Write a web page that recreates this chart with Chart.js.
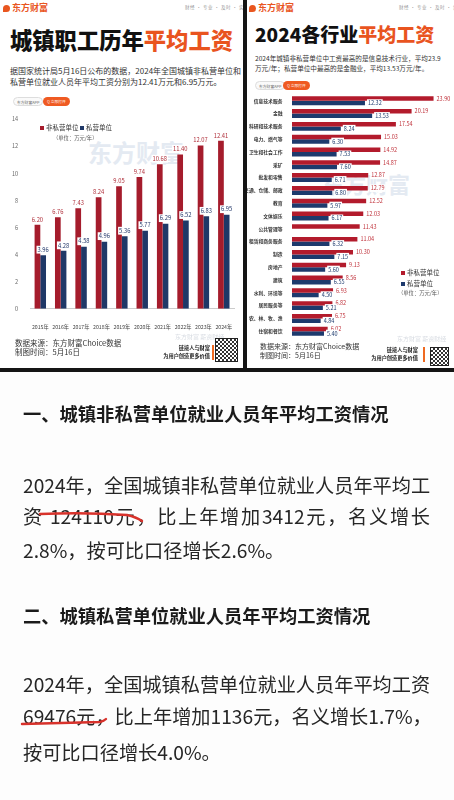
<!DOCTYPE html>
<html lang="zh-CN">
<head>
<meta charset="UTF-8" />
<title>城镇职工平均工资</title>
<script src="https://cdn.jsdelivr.net/npm/chart.js"></script>
<style>
  * { box-sizing: border-box; }
  body { margin: 0; width: 454px; height: 800px; background: #151515; position: relative; overflow: hidden;
         font-family: "Noto Sans CJK SC", "Noto Sans", sans-serif; color: #222; }
  .panel { position: absolute; top: 0; height: 368px; background: #fff; overflow: hidden; }
  .logo { position: absolute; color: #e9561f; font-weight: 700; font-size: 9px; line-height: 1; }
  .logo i { font-style: normal; display: inline-block; width: 7px; height: 7px; border-radius: 50% 50% 50% 0; background: #e9561f; margin-right: 2px; vertical-align: -1px; }
  .tagline { position: absolute; color: #999; font-size: 4.5px; line-height: 1; letter-spacing: 0.5px; white-space: nowrap; }
  .title { position: absolute; font-weight: 900; line-height: 1; color: #111; white-space: nowrap; }
  .title span { color: #e9541f; }
  .sub { position: absolute; color: #333; white-space: nowrap; }
  .pill { position: absolute; height: 9px; line-height: 9px; font-size: 3.8px; padding: 0 3px; border: 0.5px solid #ddd; border-radius: 5px; color: #666; background: #fafafa; white-space: nowrap; }
  .btn { position: absolute; height: 9px; line-height: 9px; font-size: 3.8px; padding: 0 4px; border-radius: 5px; color: #fff; background: #ef5a22; white-space: nowrap; }
  .legend { position: absolute; font-size: 6.5px; line-height: 1; color: #333; white-space: nowrap; }
  .sq { display: inline-block; width: 4px; height: 4px; margin-right: 2px; vertical-align: 0; }
  .unit { position: absolute; font-size: 5.3px; color: #555; white-space: nowrap; line-height: 1; }
  .foot { position: absolute; font-size: 7.5px; line-height: 9px; color: #333; white-space: nowrap; }
  .slogan { position: absolute; font-size: 5.2px; line-height: 8px; color: #222; font-weight: 700; text-align: right; white-space: nowrap; }
  .bar { position: absolute; width: 2px; background: #ef6a22; }
  .qr { position: absolute; border: 1.5px solid #222; background: repeating-conic-gradient(#333 0 25%, #fff 0 50%) 0 0 / 4px 4px; }
  .wm { position: absolute; color: #e4eaf2; font-weight: 700; white-space: nowrap; line-height: 1; }
  .wm2 { position: absolute; color: #d9dde3; font-size: 6px; white-space: nowrap; line-height: 1; }
  canvas { position: absolute; }
  #article { position: absolute; left: 0; top: 372px; width: 454px; height: 428px; background: #fdfdfd; }
  .h { position: absolute; left: 23px; font-size: 18.3px; font-weight: 700; color: #1b1b1b; line-height: 1; white-space: nowrap; }
  .p { position: absolute; left: 23px; font-size: 19.2px; color: #262626; line-height: 1; white-space: nowrap; }
  .j { width: 407px; text-align: justify; text-align-last: justify; }
  svg { position: absolute; left: 0; top: 0; }
</style>
</head>
<body>
<!-- left panel: yearly wages -->
<div class="panel" style="left:0;width:243px">
  <div class="logo" style="left:3px;top:3px"><i></i>东方财富</div>
  <div class="tagline" style="left:185px;top:5px">财经 · 专业 · 及时 · 实用</div>
  <div class="title" style="left:10px;top:28px;font-size:22.3px">城镇职工历年<span>平均工资</span></div>
  <div class="sub" style="left:10px;top:64.5px;font-size:8px;line-height:11px">据国家统计局5月16日公布的数据，2024年全国城镇非私营单位和<br>私营单位就业人员年平均工资分别为12.41万元和6.95万元。</div>
  <div class="pill" style="left:13px;top:97px">东方财富APP</div>
  <div class="btn" style="left:43px;top:97px">Q 立即打开</div>
  <div class="wm" style="left:88px;top:140px;font-size:24px">东方财富</div>
  <canvas id="yearChart" width="243" height="230" style="left:0;top:112px;width:243px;height:230px"></canvas>
  <div class="legend" style="left:40px;top:124px"><span class="sq" style="background:#a51c2c"></span>非私营单位 <span class="sq" style="background:#1f3867"></span>私营单位</div>
  <div class="unit" style="left:53px;top:136px">（单位：万元/年）</div>
  <div class="wm2" style="left:175px;top:334px">东方财富 薪资财经</div>
  <div class="foot" style="left:15px;top:338px">数据来源：东方财富Choice数据<br>制图时间：5月16日</div>
  <div class="slogan" style="right:33px;top:344px">链接人与财富<br>为用户创造更多价值</div>
  <div class="bar" style="left:212px;top:345px;height:15px"></div>
  <div class="qr" style="left:215px;top:338px;width:23px;height:24px"></div>
</div>

<!-- right panel: industries -->
<div class="panel" style="left:247px;width:207px">
  <div class="logo" style="left:2px;top:3px"><i></i>东方财富</div>
  <div class="tagline" style="left:152px;top:5px">财经 · 专业 · 及时 · 实用</div>
  <div class="title" style="left:8px;top:23.5px;font-size:19px">2024各行业<span>平均工资</span></div>
  <div class="sub" style="left:8px;top:53px;font-size:6.6px;line-height:10px">2024年城镇非私营单位中工资最高的是信息技术行业，平均23.9<br>万元/年；私营单位中最高的是金融业，平均13.53万元/年。</div>
  <div class="pill" style="left:8px;top:81px">东方财富APP</div>
  <div class="btn" style="left:36px;top:81px">Q 立即打开</div>
  <div class="wm" style="left:75px;top:172px;font-size:22px">东方财富</div>
  <canvas id="industryChart" width="207" height="252" style="left:0;top:90px;width:207px;height:252px"></canvas>
  <div class="legend" style="left:154px;top:269px"><span class="sq" style="background:#b31b2c"></span>非私营单位</div>
  <div class="legend" style="left:154px;top:280px"><span class="sq" style="background:#1d3a6d"></span>私营单位</div>
  <div class="unit" style="left:151px;top:291px">（单位：万元/年）</div>
  <div class="wm2" style="left:150px;top:336px">东方财富 薪资财经</div>
  <div class="foot" style="left:13px;top:342px;font-size:7px">数据来源：东方财富Choice数据<br>制图时间：5月16日</div>
  <div class="slogan" style="right:36px;top:346px">链接人与财富<br>为用户创造更多价值</div>
  <div class="bar" style="left:176px;top:347px;height:15px"></div>
  <div class="qr" style="left:183px;top:347px;width:19px;height:19px"></div>
</div>

<!-- article text -->
<div id="article">
  <div class="h" style="top:32px">一、城镇非私营单位就业人员年平均工资情况</div>
  <div class="p j" style="top:103.5px">2024年，全国城镇非私营单位就业人员年平均工</div>
  <div class="p j" style="top:134.5px">资 124110元，比上年增加3412元，名义增长</div>
  <div class="p" style="top:168.5px">2.8%，按可比口径增长2.6%。</div>
  <div class="h" style="top:234px">二、城镇私营单位就业人员年平均工资情况</div>
  <div class="p j" style="top:302.5px">2024年，全国城镇私营单位就业人员年平均工资</div>
  <div class="p j" style="top:334.5px">69476元，比上年增加1136元，名义增长1.7%，</div>
  <div class="p" style="top:370.5px">按可比口径增长4.0%。</div>
  <svg width="454" height="428">
    <path d="M40 142 Q85 140 127 143 Q136 145 142 149" fill="none" stroke="#d8322b" stroke-width="2.4" stroke-linecap="round" />
    <path d="M22 352 Q60 351 100 350 Q104 349 106 347" fill="none" stroke="#d8322b" stroke-width="2.4" stroke-linecap="round" />
  </svg>
</div>

<script>
  // yearly average wage, 万元/年
  const years = ['2015年', '2016年', '2017年', '2018年', '2019年', '2020年', '2021年', '2022年', '2023年', '2024年'];
  const nonPrivateByYear = [6.20, 6.76, 7.43, 8.24, 9.05, 9.74, 10.68, 11.40, 12.07, 12.41];
  const privateByYear = [3.96, 4.28, 4.58, 4.96, 5.36, 5.77, 6.29, 6.52, 6.83, 6.95];
  const yearTicks = [0, 2, 4, 6, 8, 10, 12, 14];

  // 2024 by industry, 万元/年
  const industries = ['信息技术服务', '金融', '科研和技术服务', '电力、燃气等', '卫生和社会工作', '采矿', '批发和零售',
    '交通、仓储、邮政', '教育', '文体娱乐', '公共管理等', '租赁和商务服务', '制造', '房地产', '建筑',
    '水利、环境等', '居民服务等', '农、林、牧、渔', '住宿和餐饮'];
  const nonPrivateByIndustry = [23.90, 20.19, 17.54, 15.03, 14.92, 14.87, 12.87, 12.79, 12.52, 12.03, 11.43, 11.04, 10.30, 9.13, 8.56, 6.93, 6.82, 6.75, 6.02];
  const privateByIndustry = [12.32, 13.53, 8.24, 6.30, 7.53, 7.60, 6.71, 6.80, 5.97, 6.17, null, 6.32, 7.15, 5.60, 6.55, 4.50, 5.21, 4.84, 5.40];

  const RED = '#a51c2c';
  const NAVY = '#1f3867';
  const FONT = '"Noto Sans CJK SC", sans-serif';

  // draws the number next to every bar
  const valueLabels = {
    id: 'valueLabels',
    afterDatasetsDraw(chart, args, opts) {
      const ctx = chart.ctx;
      const horizontal = chart.options.indexAxis === 'y';
      chart.data.datasets.forEach((ds, i) => {
        chart.getDatasetMeta(i).data.forEach((bar, j) => {
          const v = ds.data[j];
          if (v == null) return;
          const txt = v.toFixed(2);
          ctx.save();
          ctx.font = opts.size + 'px ' + FONT;
          const w = ctx.measureText(txt).width;
          let x, y;
          if (horizontal) { x = bar.x + 3 + w / 2; y = bar.y; }
          else { x = bar.x; y = bar.y - 5.5; }
          ctx.fillStyle = '#fff';
          ctx.fillRect(x - w / 2 - 1, y - opts.size / 2 - 1, w + 2, opts.size + 2);
          ctx.fillStyle = ds.labelColor;
          ctx.textAlign = 'center';
          ctx.textBaseline = 'middle';
          ctx.fillText(txt, x, y);
          ctx.restore();
        });
      });
    }
  };

  new Chart(document.getElementById('yearChart'), {
    type: 'bar',
    data: {
      labels: years,
      datasets: [
        { label: '非私营单位', data: nonPrivateByYear, backgroundColor: RED, labelColor: '#b0303b', categoryPercentage: 0.56, barPercentage: 1 },
        { label: '私营单位', data: privateByYear, backgroundColor: NAVY, labelColor: '#24386a', categoryPercentage: 0.56, barPercentage: 1 }
      ]
    },
    options: {
      responsive: false,
      animation: false,
      layout: { padding: { top: 4, left: 8, right: 9, bottom: 5 } },
      plugins: { legend: { display: false }, tooltip: { enabled: false }, valueLabels: { size: 5.8 } },
      scales: {
        x: {
          grid: { display: false },
          border: { color: '#ccc' },
          ticks: { color: '#444', font: { size: 5.2, family: FONT }, padding: 7, minRotation: 0, maxRotation: 0, autoSkip: false }
        },
        y: {
          min: 0, max: 14,
          afterBuildTicks: s => { s.ticks = yearTicks.map(v => ({ value: v })); },
          grid: { display: false },
          border: { display: false },
          ticks: { color: '#666', font: { size: 5.5, family: FONT }, padding: 4 }
        }
      }
    },
    plugins: [valueLabels]
  });

  new Chart(document.getElementById('industryChart'), {
    type: 'bar',
    data: {
      labels: industries,
      datasets: [
        { label: '非私营单位', data: nonPrivateByIndustry, backgroundColor: '#b31b2c', labelColor: '#c0333c', categoryPercentage: 0.7, barPercentage: 1 },
        { label: '私营单位', data: privateByIndustry, backgroundColor: '#1d3a6d', labelColor: '#1d3a6d', categoryPercentage: 0.7, barPercentage: 1 }
      ]
    },
    options: {
      indexAxis: 'y',
      responsive: false,
      animation: false,
      layout: { padding: { top: 3.5, left: 0, right: 8, bottom: 2.5 } },
      plugins: { legend: { display: false }, tooltip: { enabled: false }, valueLabels: { size: 5.5 } },
      scales: {
        x: { display: false, min: 0, max: 26 },
        y: {
          grid: { display: false },
          border: { display: false },
          afterFit: s => { s.width = 45; },
          ticks: { color: '#333', font: { size: 4.8, weight: 'bold', family: FONT }, padding: 1.5, autoSkip: false }
        }
      }
    },
    plugins: [valueLabels]
  });
</script>
</body>
</html>
